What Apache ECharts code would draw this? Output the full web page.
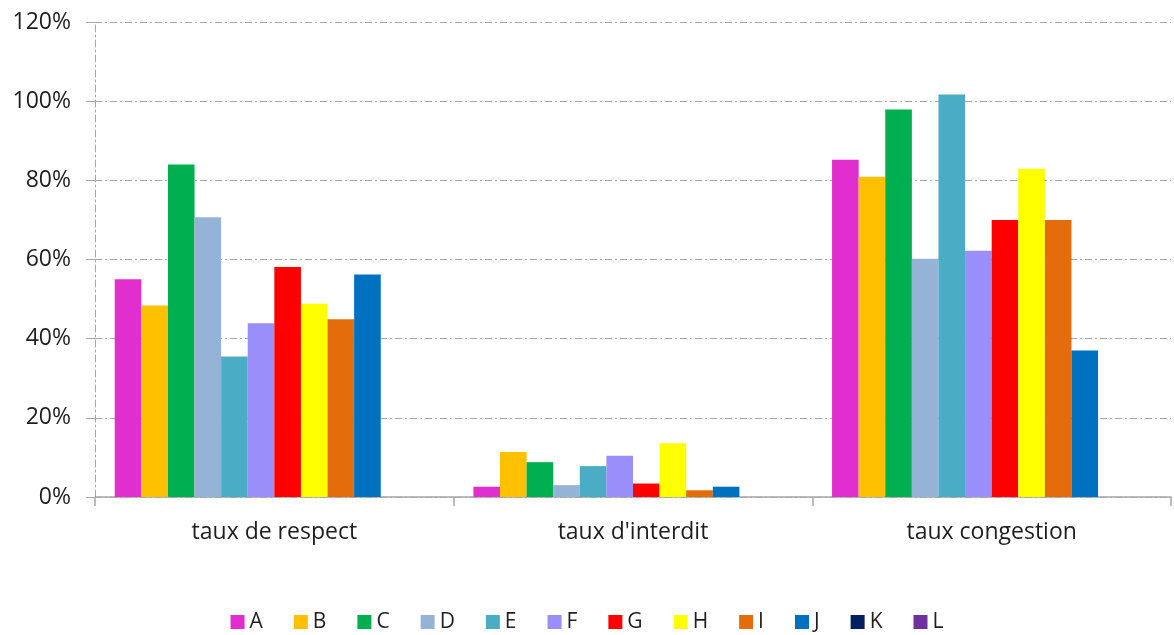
<!DOCTYPE html>
<html>
<head>
<meta charset="utf-8">
<script src="https://cdn.jsdelivr.net/npm/echarts@6/dist/echarts.min.js"></script>
<style>
html,body{margin:0;padding:0;background:#fff;}
#chart{width:1174px;height:635px;}
</style>
</head>
<body>
<div id="chart"></div>
<script>
const categories = ['taux de respect', "taux d'interdit", 'taux congestion'];
const seriesNames = ['A','B','C','D','E','F','G','H','I','J','K','L'];
const A = [55.0, 2.6, 85.2];
const B = [48.4, 11.4, 80.9];
const C = [84.0, 8.8, 97.9];
const D = [70.7, 3.0, 60.2];
const E = [35.5, 7.8, 101.7];
const F = [43.9, 10.4, 62.2];
const G = [58.1, 3.4, 70.0];
const H = [48.8, 13.6, 82.9];
const I = [44.9, 1.7, 70.0];
const J = [56.2, 2.6, 37.0];
const K = [null, null, null];
const L = [null, null, null];
const yTicks = [0, 20, 40, 60, 80, 100, 120];

const seriesData = [A,B,C,D,E,F,G,H,I,J,K,L];
const colors = ['#E02ECF','#FFC000','#00B050','#95B3D7','#4BACC6','#9A8FFA','#FF0000','#FFFF00','#E46C0A','#0070C0','#002060','#7030A0'];

const chart = echarts.init(document.getElementById('chart'), null, {renderer:'canvas'});
const font = '"Open Sans", sans-serif';
const dashDot = [7, 3, 2, 3];
chart.setOption({
  animation: false,
  color: colors,
  grid: {left: 95, right: 3, top: 22, bottom: 138, containLabel: false},
  legend: {
    data: seriesNames,
    top: 606,
    left: 'center',
    itemWidth: 14,
    itemHeight: 14,
    itemGap: 31,
    icon: 'rect',
    textStyle: {fontFamily: font, fontSize: 21, color: '#1e1e1e', lineHeight: 22, padding: [0,0,0,0]}
  },
  xAxis: {
    type: 'category',
    data: categories,
    axisLine: {lineStyle: {color: '#a6a6a6', width: 1.5}},
    axisTick: {show: true, length: 9, lineStyle: {color: '#a6a6a6', width: 1.5}},
    axisLabel: {fontFamily: font, fontSize: 23, color: '#1e1e1e', margin: 24},
    splitLine: {show: false}
  },
  yAxis: {
    type: 'value',
    min: yTicks[0],
    max: yTicks[yTicks.length - 1],
    interval: 20,
    axisLine: {show: true, lineStyle: {color: '#a6a6a6', type: dashDot, width: 1}},
    axisTick: {show: true, length: 9, lineStyle: {color: '#a6a6a6', width: 1}},
    axisLabel: {fontFamily: font, fontSize: 23, color: '#1e1e1e', margin: 24, formatter: v => v + '%'},
    splitLine: {show: true, lineStyle: {color: '#a6a6a6', type: dashDot, width: 1}}
  },
  series: seriesNames.map((n, i) => ({
    name: n,
    type: 'bar',
    data: seriesData[i],
    barGap: '0%',
    barCategoryGap: '11%',
    itemStyle: {color: colors[i]}
  }))
});
</script>
</body>
</html>
